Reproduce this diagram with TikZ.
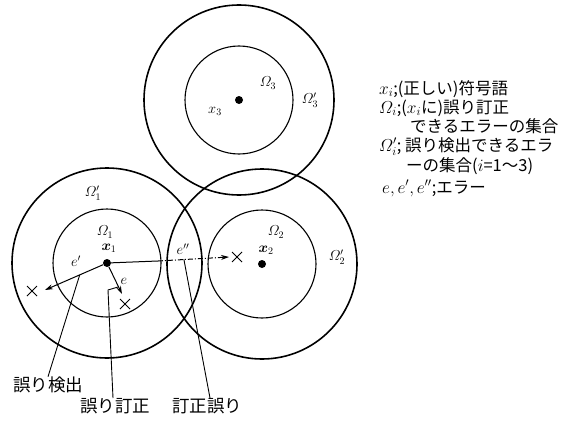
\documentclass[tikz,border=0pt]{standalone}
\usepackage{amsmath}
\usepackage{fontspec}
\newfontfamily\jpfont{Noto Sans CJK JP}
\usetikzlibrary{shapes.misc,arrows.meta,calc}
\tikzset{
  outerring/.style={circle, draw, line width=1.6pt, minimum size=190pt, inner sep=0pt},
  innerring/.style={circle, draw, line width=1.1pt, minimum size=108pt, inner sep=0pt},
  codeword/.style={circle, fill=black, minimum size=8pt, inner sep=0pt},
  errmark/.style={cross out, draw, line width=1pt, minimum size=9pt, inner sep=0pt},
  lbl/.style={font=\fontsize{14}{16}\selectfont, inner sep=0pt},
  jplbl/.style={font=\jpfont\fontsize{17.5}{19}\selectfont, inner sep=0pt},
  legend/.style={font=\jpfont\fontsize{16.5}{18}\selectfont, inner sep=0pt, anchor=base west},
  errarrow/.style={line width=1pt, -{Stealth[length=8pt,width=5pt]}},
  leader/.style={line width=0.9pt}
}

\begin{document}
\begin{tikzpicture}[x=1pt, y=-1pt]
  \useasboundingbox (0,0) rectangle (588,420);

  % codewords and their spheres
  \node[codeword] (x1) at (107,263) {};
  \node[codeword] (x2) at (262,264) {};
  \node[codeword] (x3) at (239,100) {};
  \foreach \i in {1,2,3} {
    \node[innerring] (in\i) at (x\i) {};
    \node[outerring] (out\i) at (x\i) {};
  }

  % labels in the circles
  \node[lbl] (om1)  at (105,232) {$\varOmega_1$};
  \node[lbl] (om1p) at (93,193)  {$\varOmega'_1$};
  \node[lbl] (lx1)  at (109,248) {$\boldsymbol{x}_1$};
  \node[lbl] (om2)  at (276,232) {$\varOmega_2$};
  \node[lbl] (om2p) at (337,257) {$\varOmega'_2$};
  \node[lbl] (lx2)  at (266,250) {$\boldsymbol{x}_2$};
  \node[lbl] (om3)  at (268,83)  {$\varOmega_3$};
  \node[lbl] (om3p) at (310,100) {$\varOmega'_3$};
  \node[lbl] (lx3)  at (215,111) {$x_3$};

  % errors
  \node[errmark] (c1) at (32,291) {};
  \node[errmark] (c2) at (125,304) {};
  \node[errmark] (c3) at (237,257) {};
  \coordinate (t1) at (45,290);
  \coordinate (t2) at (122,294);
  \coordinate (m3) at (158,261);
  \coordinate (t3) at (229,257);
  \draw[errarrow] (x1) -- (t1);
  \draw[errarrow] (x1) -- (t2);
  \draw[line width=1pt] (x1) -- (m3);
  \draw[errarrow, dash pattern=on 5pt off 2pt on 1pt off 2pt] (m3) -- (t3);
  \node[lbl] (le1) at (76,261)  {$e'$};
  \node[lbl] (le)  at (124,281) {$e$};
  \node[lbl] (le2) at (183,249) {$e''$};

  % leaders
  \node[jplbl] (det)  at (48,385)  {誤り検出};
  \node[jplbl] (corr) at (115,406) {誤り訂正};
  \node[jplbl] (miss) at (207,406) {訂正誤り};
  \coordinate (k1) at (118,287);
  \coordinate (k2) at (108,290);
  \draw[leader] ($(x1)!0.44!(t1)$) -- (det.north);
  \draw[leader] (k1) -- (k2) -- ([xshift=-2pt]corr.north);
  \draw[leader] ($(x1)!0.63!(t3)$) -- ([xshift=3pt]miss.north);

  % legend
  \node[legend] (n1) at (379,94)  {$x_i$;(正しい)符号語};
  \node[legend] (n2) at (379,113) {$\varOmega_i$;($x_i$に)誤り訂正};
  \node[legend] (n3) at (410,132) {できるエラーの集合};
  \node[legend] (n4) at (379,151) {$\varOmega'_i$; 誤り検出できるエラ};
  \node[legend] (n5) at (406,171) {ーの集合($i$=1〜3)};
  \node[legend] (n6) at (382,193) {$e,e',e''$;エラー};
\end{tikzpicture}
\end{document}
